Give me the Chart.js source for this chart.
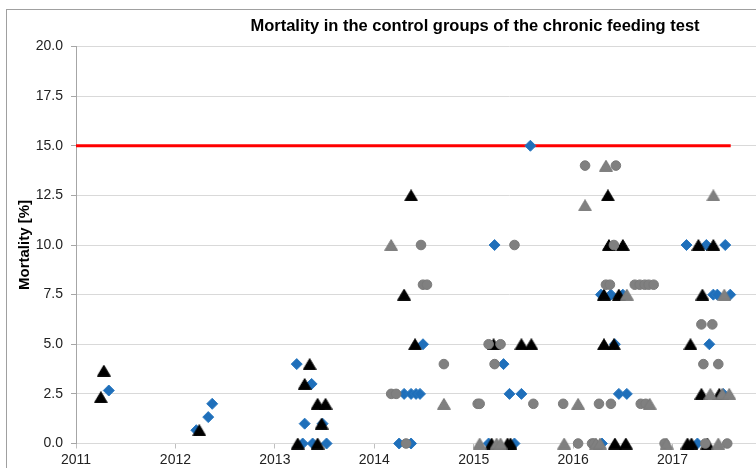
<!DOCTYPE html>
<html><head><meta charset="utf-8">
<style>
html,body{margin:0;padding:0;background:#fff;overflow:hidden;width:756px;height:468px}
#wrap{position:absolute;left:0;top:0;width:756px;height:468px;overflow:hidden;background:#fff}
#frame{position:absolute;left:6px;top:9px;width:900px;height:600px;border-left:1px solid #a0a0a0;border-top:1px solid #a0a0a0}
#box{position:absolute;left:0;top:0;width:950px;height:468px}
</style>
<script src="https://cdn.jsdelivr.net/npm/chart.js@4.4.1/dist/chart.umd.min.js"></script>
</head><body>
<div id="wrap"><div id="frame"></div><div id="box"><canvas id="c"></canvas></div></div>
<script>
const chartTitle = 'Mortality in the control groups of the chronic feeding test';
const yTitle = 'Mortality [%]';
const yearTicks = [2011, 2012, 2013, 2014, 2015, 2016, 2017];

// Blue diamonds
const blueX = [2011.33,2012.21,2012.33,2012.37,2013.22,2013.37,2013.30,2013.48,2013.28,2013.38,2013.52,
  2014.25,2014.37,2014.30,2014.37,2014.42,2014.46,2014.49,2015.21,2015.30,2015.15,2015.41,2015.36,2015.48,2015.57,
  2016.28,2016.38,2016.50,2016.42,2016.46,2016.54,2016.29,2017.14,2017.34,2017.53,2017.41,2017.45,2017.58,2017.37,2017.51,2017.25];
const blueY = [2.67,0.67,1.33,2.0,4.0,3.0,1.0,1.0,0,0,0,
  0,0,2.5,2.5,2.5,2.5,5.0,10.0,4.0,0,0,2.5,2.5,15.0,
  7.5,7.5,7.5,5.0,2.5,2.5,0,10,10,10,7.5,7.5,7.5,5.0,2.5,0];

// Black triangles
const blackX = [2011.28,2011.25,2012.24,2013.35,2013.30,2013.43,2013.51,2013.47,2013.23,2013.43,
  2014.37,2014.30,2014.41,2015.20,2015.48,2015.58,2015.18,2015.34,2015.37,
  2016.35,2016.36,2016.50,2016.31,2016.46,2016.31,2016.41,2016.42,2016.53,
  2017.26,2017.41,2017.30,2017.18,2017.29,2017.47,2017.15,2017.19,2017.35];
const blackY = [3.67,2.33,0.67,4.0,3.0,2.0,2.0,1.0,0,0,
  12.5,7.5,5.0,5.0,5.0,5.0,0,0,0,
  12.5,10,10,7.5,7.5,5.0,5.0,0,0,
  10,10,7.5,5.0,2.5,2.5,0,0,0];

// Grey circles
const circleX = [2014.47,2014.49,2014.53,2014.70,2014.17,2014.22,2014.32,2015.04,2015.06,2015.15,2015.27,2015.21,
  2015.41,2015.60,2015.90,2016.26,2016.38,2016.68,2016.73,2016.12,2016.43,2016.41,2016.33,2016.37,
  2016.62,2016.67,2016.72,2016.76,2016.81,2016.05,2016.19,2016.21,2016.92,2017.33,2017.55,
  2017.29,2017.40,2017.31,2017.46];
const circleY = [10,8,8,4,2.5,2.5,0,2.0,2.0,5.0,5.0,4.0,
  10,2.0,2.0,2.0,2.0,2.0,2.0,14,14,10,8,8,
  8,8,8,8,8,0,0,0,0,0,0,
  6,6,4,4];

// Grey triangles
const greyTriX = [2014.17,2014.70,2015.06,2015.23,2015.27,2015.91,2016.23,2016.27,2016.05,2016.77,
  2016.12,2016.33,2016.54,2016.94,2017.41,2017.52,2017.38,2017.50,2017.57,2017.46];
const greyTriY = [10,2.0,0,0,0,0,0,0,2.0,2.0,
  12,14,7.5,0,12.5,7.5,2.5,2.5,2.5,0];

// Limit line
const limitX = [2011, 2017.585];
const limitY = [15, 15];

const pts = (xs, ys) => xs.map((x, i) => ({x: x, y: ys[i]}));
const FONT = "'Liberation Sans', Arial, sans-serif";

// triangle marker centred on its bounding box (like spreadsheet markers)
function triMarker(fill, stroke) {
  const c = document.createElement('canvas');
  c.width = 14; c.height = 12;
  const g = c.getContext('2d');
  g.beginPath();
  g.moveTo(7, 0.6);
  g.lineTo(13.4, 11.4);
  g.lineTo(0.6, 11.4);
  g.closePath();
  g.fillStyle = fill; g.fill();
  g.lineWidth = 1; g.strokeStyle = stroke; g.stroke();
  return c;
}
const greyTri = triMarker('#808080', '#7a7a7a');
const blackTri = triMarker('#000000', '#000000');

new Chart(document.getElementById('c'), {
  type: 'scatter',
  data: {
    datasets: [
      {label: 'grey triangles', data: pts(greyTriX, greyTriY), pointStyle: greyTri, pointRadius: 7,
       backgroundColor: '#808080', borderColor: '#7a7a7a', borderWidth: 1, clip: false},
      {label: 'grey circles', data: pts(circleX, circleY), pointStyle: 'circle', pointRadius: 4.8,
       backgroundColor: '#808080', borderColor: '#7a7a7a', borderWidth: 1, clip: false},
      {label: 'black triangles', data: pts(blackX, blackY), pointStyle: blackTri, pointRadius: 7,
       backgroundColor: '#000000', borderColor: '#000000', borderWidth: 1, clip: false},
      {label: 'blue diamonds', data: pts(blueX, blueY), pointStyle: 'rectRot', pointRadius: 5.5,
       backgroundColor: '#1f6fba', borderColor: '#2a78c0', borderWidth: 1, clip: false},
      {type: 'line', label: 'limit', data: pts(limitX, limitY), showLine: true, pointRadius: 0,
       borderColor: '#ff0000', borderWidth: 3, fill: false, clip: false}
    ]
  },
  options: {
    responsive: true, maintainAspectRatio: false, animation: false,
    layout: {padding: {left: 0, right: 0, top: 0, bottom: 0}},
    plugins: {
      legend: {display: false},
      tooltip: {enabled: false},
      title: {display: true, text: chartTitle, color: '#000',
        font: {family: FONT, size: 16.5, weight: 'bold'}, padding: {top: 16.4, bottom: 10.3}}
    },
    scales: {
      x: {
        type: 'linear', min: 2011, max: 2019.71,
        afterBuildTicks: (s) => { s.ticks = yearTicks.map(v => ({value: v})); },
        afterFit: (s) => { s.height = 24.5; s.paddingLeft = 0; s.paddingRight = 0; },
        grid: {display: true, drawOnChartArea: false, drawTicks: true, tickLength: 5, color: '#bfbfbf'},
        border: {display: true, color: '#d9d9d9'},
        ticks: {color: '#222', font: {family: FONT, size: 14}, padding: 3, maxRotation: 0,
          callback: (v) => String(v)}
      },
      y: {
        min: 0, max: 20,
        afterFit: (s) => { s.width = 76; },
        grid: {color: '#d9d9d9', drawTicks: true, tickLength: 5, tickColor: '#a6a6a6'},
        border: {display: true, color: '#a6a6a6'},
        ticks: {stepSize: 2.5, color: '#222', font: {family: FONT, size: 14}, padding: 8,
          callback: (v) => Number(v).toFixed(1)},
        title: {display: true, text: yTitle, color: '#000', font: {family: FONT, size: 15, weight: 'bold'},
          padding: {top: 15.5, bottom: 0}}
      }
    }
  }
});
</script>
</body></html>
